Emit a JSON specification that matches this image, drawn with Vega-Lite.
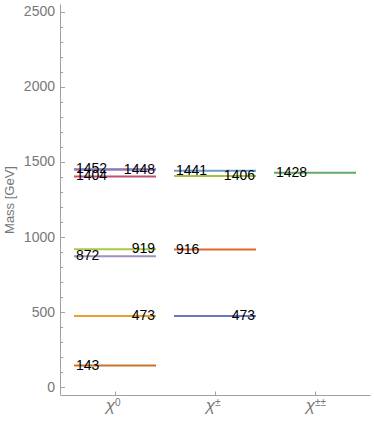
{
  "$schema": "https://vega.github.io/schema/vega-lite/v6.json",
  "width": 310,
  "height": 391,
  "autosize": {"type": "none"},
  "padding": {"left": 60, "top": 4, "right": 4, "bottom": 47},
  "background": "white",
  "config": {
    "view": {"stroke": null},
    "font": "Liberation Sans"
  },
  "data": {
    "values": [
      {"multiplet": "χ⁰", "mass": 143, "side": "left", "state": "n1"},
      {"multiplet": "χ⁰", "mass": 473, "side": "right", "state": "n2"},
      {"multiplet": "χ⁰", "mass": 872, "side": "left", "state": "n3"},
      {"multiplet": "χ⁰", "mass": 919, "side": "right", "state": "n4"},
      {"multiplet": "χ⁰", "mass": 1404, "side": "left", "state": "n5"},
      {"multiplet": "χ⁰", "mass": 1448, "side": "right", "state": "n6"},
      {"multiplet": "χ⁰", "mass": 1452, "side": "left", "state": "n7"},
      {"multiplet": "χ±", "mass": 473, "side": "right", "state": "c1"},
      {"multiplet": "χ±", "mass": 916, "side": "left", "state": "c2"},
      {"multiplet": "χ±", "mass": 1406, "side": "right", "state": "c3"},
      {"multiplet": "χ±", "mass": 1441, "side": "left", "state": "c4"},
      {"multiplet": "χ±±", "mass": 1428, "side": "left", "state": "d1"}
    ]
  },
  "resolve": {"axis": {"x": "independent", "y": "independent"}},
  "layer": [
    {
      "mark": {"type": "tick", "orient": "horizontal", "size": 82, "thickness": 2, "opacity": 1},
      "encoding": {
        "x": {
          "field": "multiplet",
          "type": "nominal",
          "sort": ["χ⁰", "χ±", "χ±±"],
          "scale": {"domain": ["χ⁰", "χ±", "χ±±"], "paddingInner": 0, "paddingOuter": 0.05},
          "axis": {
            "orient": "bottom",
            "title": null,
            "labelExpr": "'χ'",
            "labelAngle": 0,
            "labelAlign": "right",
            "labelFontStyle": "italic",
            "labelFontSize": 17,
            "labelColor": "#777777",
            "labelPadding": 6,
            "domainColor": "#a0a0a0",
            "tickColor": "#a0a0a0",
            "tickSize": -4,
            "grid": false
          }
        },
        "y": {
          "field": "mass",
          "type": "quantitative",
          "scale": {"domain": [-53, 2553], "nice": false, "zero": false},
          "axis": {
            "orient": "left",
            "title": "Mass [GeV]",
            "titleFontSize": 13,
            "titleFontWeight": "normal",
            "titleColor": "#777777",
            "titlePadding": 7,
            "values": [0, 500, 1000, 1500, 2000, 2500],
            "labelOverlap": false,
            "format": "d",
            "labelFontSize": 14,
            "labelColor": "#777777",
            "labelPadding": 10,
            "domainColor": "#a0a0a0",
            "tickColor": "#a0a0a0",
            "tickSize": -4.5,
            "grid": false
          }
        },
        "color": {
          "field": "state",
          "type": "nominal",
          "scale": {
            "domain": ["n1", "n2", "n3", "n4", "n5", "n6", "n7", "c1", "c2", "c3", "c4", "d1"],
            "range": ["#c8742c", "#e8a030", "#a58fc2", "#a8c848", "#c24a7c", "#9b8fc4", "#8a78b8", "#6a78bc", "#e2662e", "#a6c242", "#6c9cc8", "#62aa62"]
          },
          "legend": null
        }
      }
    },
    {
      "transform": [{"filter": "datum.side === 'left'"}],
      "mark": {"type": "text", "align": "left", "baseline": "middle", "fontSize": 14, "color": "black"},
      "encoding": {
        "x": {
          "field": "multiplet",
          "type": "nominal",
          "bandPosition": 0.11,
          "axis": {
            "orient": "bottom",
            "title": null,
            "labelExpr": "replace(substring(datum.label, 1), '⁰', '0')",
            "labelAngle": 0,
            "labelAlign": "left",
            "labelFontSize": 10,
            "labelColor": "#777777",
            "labelPadding": 2,
            "domain": false,
            "ticks": false,
            "grid": false
          }
        },
        "y": {
          "field": "mass",
          "type": "quantitative",
          "axis": {
            "orient": "left",
            "title": null,
            "values": [100, 200, 300, 400, 600, 700, 800, 900, 1100, 1200, 1300, 1400, 1600, 1700, 1800, 1900, 2100, 2200, 2300, 2400],
            "labels": false,
            "domain": false,
            "tickColor": "#a0a0a0",
            "tickSize": -2.7,
            "grid": false
          }
        },
        "text": {"field": "mass", "type": "quantitative"}
      }
    },
    {
      "transform": [{"filter": "datum.side === 'right'"}],
      "mark": {"type": "text", "align": "right", "baseline": "middle", "fontSize": 14, "color": "black"},
      "encoding": {
        "x": {"field": "multiplet", "type": "nominal", "bandPosition": 0.9, "axis": null},
        "y": {"field": "mass", "type": "quantitative", "axis": null},
        "text": {"field": "mass", "type": "quantitative"}
      }
    }
  ]
}
